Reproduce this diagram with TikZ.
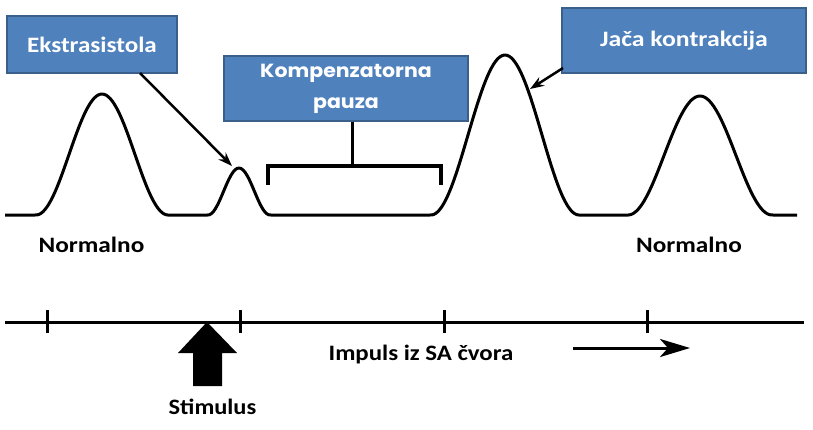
\documentclass[tikz,border=0pt]{standalone}
\usepackage{graphicx}
\usepackage{fontspec}
\setmainfont{Carlito}
\newfontfamily\popfont{Poppins}
\usetikzlibrary{arrows.meta}
\definecolor{boxblue}{HTML}{4F81BD}
\definecolor{boxedge}{HTML}{3A5F8B}
\newcommand\wtxt[2][1.15]{\scalebox{#1}[1]{#2}}
\begin{document}
\begin{tikzpicture}[x=1pt,y=-1pt,
  declare function={pk(\d,\w)=(cos(90*min(abs(\d)/\w,1)))^2;},
  lbl/.style={font=\fontsize{22}{24}\selectfont\bfseries, text=black, inner sep=0pt, anchor=base},
  bluebox/.style={fill=boxblue, draw=boxedge, line width=1.5pt, text=white, inner sep=0pt,
     font=\fontsize{22}{24}\selectfont\bfseries, align=center},
  wave/.style={line width=3pt, line join=round},
  axis/.style={line width=3pt},
  tick/.style={line width=3pt}]
\useasboundingbox (0,0) rectangle (813,429);
% waveform
\draw[wave] plot[domain=5:797, samples=400, smooth]
  (\x, {215 - 121*pk(\x-102,66) - 47*pk(\x-239,31) - 160*pk(\x-505,74) - 119*pk(\x-700,72)});
% boxes
\node[bluebox, minimum width=170pt, minimum height=57pt] (ekstra) at (92,44.5) {\wtxt[1.14]{Ekstrasistola}};
\node[bluebox, minimum width=244pt, minimum height=65pt, font=\popfont\fontsize{19}{31}\selectfont\bfseries] (komp) at (346,88.5) {\wtxt[1.08]{Kompenzatorna}\\\wtxt[1.08]{pauza}};
\node[bluebox, minimum width=244pt, minimum height=65pt] (jaca) at (684,40.5) {\wtxt[1.17]{Jača kontrakcija}};
% arrow targets
\coordinate (ekTip) at (232,166);
\coordinate (jaTip) at (530,89);
\draw[line width=2.5pt, -{Stealth[length=14pt,width=10pt]}] (140,73) -- (ekTip);
\draw[line width=2.5pt, -{Stealth[length=14pt,width=10pt]}] (563,68) -- (jaTip);
% bracket
\coordinate (brL) at (268,185);
\coordinate (brR) at (441,185);
\coordinate (brM) at (352,166);
\draw[line width=4pt] (brL) -- (268,166) -- (441,166) -- (brR);
\draw[line width=3pt] (komp.south -| brM) -- (brM);
% labels
\node[lbl] (norm1) at (91.5,252) {\wtxt{Normalno}};
\node[lbl] (norm2) at (689,252) {\wtxt{Normalno}};
% timeline
\coordinate (axL) at (5,322);
\coordinate (axR) at (804,322);
\draw[axis] (axL) -- (axR);
\foreach \t in {47,240,444,647} \draw[tick] (\t,310) -- (\t,333);
% stimulus arrow
\fill[black] (207,322) -- (237,353) -- (222,353) -- (222,386) -- (193,386) -- (193,353) -- (178,353) -- cycle;
\node[lbl] (stim) at (212.5,414) {\wtxt[1.11]{Stimulus}};
\node[lbl] (imp) at (421,360) {\wtxt[1.13]{Impuls iz SA čvora}};
\coordinate (raS) at (573,348);
\coordinate (raE) at (690,348);
\draw[line width=3pt, -{Stealth[length=30pt,width=18pt,inset=8pt]}] (raS) -- (raE);
\end{tikzpicture}
\end{document}
